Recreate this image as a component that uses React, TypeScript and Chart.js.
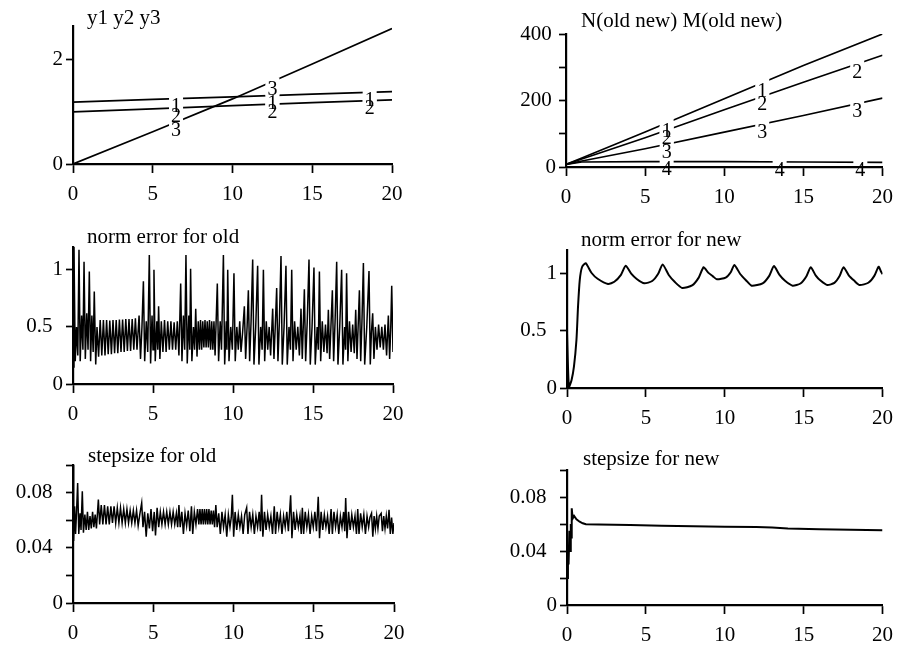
import { useEffect, useRef } from 'react';
import { Chart, registerables } from 'chart.js';

Chart.register(...registerables);

const FONT = '"Liberation Serif", "Times New Roman", serif';

// ---------- shared x axis ----------
const xTickVals = [0, 5, 10, 15, 20];
const xTickLabels = ['0', '5', '10', '15', '20'];

// ---------- panel 1: y1 y2 y3 ----------
const p1X = [0, 5, 10, 15, 20];
const p1Y1 = [1.19, 1.24, 1.29, 1.34, 1.39];
const p1Y2 = [1.0, 1.06, 1.12, 1.18, 1.23];
const p1Y3 = [0, 0.62, 1.25, 1.92, 2.6];
const p1YTickVals = [0, 2];
const p1YTickLabels = ['0', '2'];

// ---------- panel 2: N(old new) M(old new) ----------
const p2X = [0, 1, 5, 10, 15, 20];
const p2Line1 = [8, 27, 105, 205, 305, 400];
const p2Line2 = [8, 24, 88, 172, 255, 336];
const p2Line3 = [8, 18, 55, 105, 155, 207];
const p2Line4 = [8, 15, 16, 16, 15, 14];
const p2YTickVals = [0, 100, 200, 300, 400];
const p2YTickLabels = ['0', '', '200\u2009', '', '400\u2009'];

// ---------- panel 3: norm error for old ----------
const oldErr: [number, number][] = [
  [0, 0.15], [0.06, 1.2], [0.14, 0.2], [0.22, 0.5], [0.3, 0.25], [0.375, 1.175], [0.45, 0.2], [0.54, 0.6], [0.62, 0.3], [0.69, 1.07],
  [0.77, 0.22], [0.86, 0.62], [0.94, 0.3], [1.02, 0.985], [1.1, 0.2], [1.18, 0.6], [1.26, 0.28], [1.33, 0.81], [1.42, 0.17], [1.5, 0.5],
  [1.6, 0.24], [1.7, 0.56], [1.8, 0.25], [1.9, 0.56], [2.0, 0.25], [2.1, 0.56], [2.2, 0.26], [2.3, 0.555], [2.4, 0.26], [2.5, 0.56],
  [2.6, 0.27], [2.7, 0.56], [2.8, 0.27], [2.9, 0.565], [3.0, 0.28], [3.1, 0.565], [3.2, 0.28], [3.3, 0.57], [3.4, 0.29], [3.5, 0.57],
  [3.6, 0.29], [3.7, 0.57], [3.8, 0.3], [3.9, 0.575], [4.0, 0.3],
  [4.13, 0.6], [4.22, 0.22], [4.31, 0.5], [4.4, 0.9], [4.48, 0.2], [4.58, 0.55], [4.67, 0.28], [4.77, 1.13], [4.85, 0.18], [4.94, 0.6],
  [5.0, 0.3], [5.06, 1.0], [5.14, 0.2], [5.24, 0.55], [5.3, 0.3], [5.35, 0.68], [5.43, 0.22],
  [5.52, 0.55], [5.62, 0.28], [5.72, 0.56], [5.82, 0.28], [5.92, 0.55], [6.02, 0.3], [6.12, 0.55], [6.22, 0.3], [6.32, 0.54], [6.42, 0.3],
  [6.52, 0.55], [6.62, 0.25],
  [6.73, 0.88], [6.81, 0.2], [6.9, 0.6], [6.98, 0.3], [7.06, 1.13], [7.14, 0.18], [7.24, 0.6], [7.3, 0.3], [7.35, 1.01], [7.43, 0.2],
  [7.53, 0.5], [7.6, 0.3], [7.67, 0.66], [7.75, 0.24],
  [7.83, 0.55], [7.9, 0.3], [7.97, 0.56], [8.04, 0.3], [8.11, 0.55], [8.18, 0.32], [8.25, 0.56], [8.32, 0.32], [8.39, 0.55], [8.46, 0.32],
  [8.53, 0.56], [8.6, 0.3], [8.67, 0.55], [8.74, 0.3], [8.81, 0.55], [8.88, 0.25],
  [9.02, 0.88], [9.1, 0.2], [9.2, 0.55], [9.28, 0.3], [9.4, 1.13], [9.48, 0.17], [9.58, 0.55], [9.62, 0.3], [9.67, 1.0], [9.75, 0.2],
  [9.86, 0.5], [9.96, 0.3], [10.06, 0.97], [10.14, 0.2],
  [10.24, 0.5], [10.33, 0.3], [10.42, 0.55], [10.5, 0.28], [10.6, 0.45],
  [10.71, 0.68], [10.79, 0.22], [10.88, 0.5], [10.96, 0.82], [11.04, 0.2], [11.13, 0.55], [11.23, 1.09], [11.31, 0.17], [11.42, 0.5], [11.54, 1.035],
  [11.62, 0.17], [11.73, 0.5], [11.82, 0.3], [11.9, 1.0], [11.98, 0.2],
  [12.08, 0.55], [12.17, 0.3], [12.26, 0.5], [12.35, 0.25],
  [12.48, 0.66], [12.56, 0.22], [12.64, 0.5], [12.73, 0.84], [12.81, 0.2], [12.9, 0.55], [13.0, 1.12], [13.08, 0.17], [13.19, 0.5], [13.31, 1.035],
  [13.39, 0.17], [13.5, 0.5], [13.59, 0.3], [13.67, 1.0], [13.75, 0.2],
  [13.85, 0.55], [13.95, 0.3], [14.05, 0.5], [14.15, 0.25],
  [14.25, 0.66], [14.33, 0.22], [14.39, 0.5], [14.46, 0.83], [14.54, 0.2], [14.64, 0.55], [14.75, 1.09], [14.83, 0.17], [14.94, 0.5], [15.06, 1.02],
  [15.14, 0.17], [15.26, 0.5], [15.33, 0.3], [15.4, 0.985], [15.48, 0.2],
  [15.58, 0.55], [15.68, 0.28], [15.78, 0.52], [15.88, 0.27],
  [15.96, 0.65], [16.04, 0.22], [16.12, 0.5], [16.21, 0.82], [16.29, 0.2], [16.38, 0.55], [16.48, 1.07], [16.56, 0.17], [16.67, 0.5], [16.79, 1.0],
  [16.87, 0.17], [16.98, 0.5], [17.04, 0.3], [17.1, 0.97], [17.18, 0.2],
  [17.28, 0.55], [17.38, 0.28], [17.48, 0.52], [17.58, 0.27],
  [17.67, 0.65], [17.75, 0.22], [17.82, 0.5], [17.9, 0.82], [17.98, 0.2], [18.06, 0.55], [18.15, 1.06], [18.23, 0.17], [18.36, 0.5], [18.5, 0.99],
  [18.58, 0.17], [18.65, 0.45], [18.73, 0.62], [18.81, 0.22],
  [18.9, 0.5], [19.0, 0.3], [19.1, 0.52], [19.2, 0.32], [19.3, 0.5], [19.4, 0.3], [19.5, 0.52], [19.6, 0.25],
  [19.71, 0.6], [19.79, 0.22], [19.86, 0.5], [19.92, 0.86], [20.0, 0.28],
];
const errYTickVals = [0, 0.5, 1];
const errYTickLabels = ['0', '0.5\u2002', '1'];

// ---------- panel 4: norm error for new ----------
const newErr: [number, number][] = [
  [0, 0.48], [0.12, 0.01], [0.29, 0.07], [0.44, 0.185], [0.6, 0.42], [0.7, 0.71], [0.81, 0.94], [0.95, 1.05], [1.18, 1.085],
  [1.56, 1.0], [1.94, 0.95], [2.6, 0.905], [3.0, 0.924], [3.42, 0.984], [3.72, 1.063],
  [4.07, 0.994], [4.42, 0.948], [4.9, 0.91], [5.4, 0.93], [5.78, 0.993], [6.06, 1.075],
  [6.45, 0.983], [6.84, 0.921], [7.3, 0.87], [7.93, 0.892], [8.35, 0.96], [8.66, 1.05],
  [8.95, 1.003], [9.25, 0.971], [9.5, 0.945], [10.06, 0.96], [10.38, 1.007], [10.61, 1.07],
  [10.99, 0.989], [11.36, 0.935], [11.7, 0.89], [12.4, 0.91], [12.82, 0.975], [13.12, 1.06],
  [13.47, 0.983], [13.82, 0.932], [14.3, 0.89], [14.8, 0.909], [15.17, 0.97], [15.45, 1.05],
  [15.76, 0.98], [16.07, 0.934], [16.5, 0.895], [16.95, 0.914], [17.28, 0.973], [17.53, 1.05],
  [17.86, 0.98], [18.2, 0.934], [18.55, 0.895], [19.1, 0.915], [19.48, 0.975], [19.75, 1.055],
  [19.88, 1.02], [20, 0.99],
];

// ---------- panel 5: stepsize for old ----------
const oldStep: [number, number][] = [
  [0, 0.1], [0.04, 0.045], [0.1, 0.07], [0.16, 0.05], [0.22, 0.066], [0.29, 0.087], [0.36, 0.05], [0.44, 0.065], [0.5, 0.053], [0.58, 0.081],
  [0.65, 0.051], [0.74, 0.064], [0.82, 0.053], [0.9, 0.066], [0.98, 0.053], [1.06, 0.063], [1.14, 0.054], [1.22, 0.066], [1.3, 0.055], [1.38, 0.064],
  [1.46, 0.054],
  [1.58, 0.075], [1.66, 0.057], [1.76, 0.071], [1.86, 0.057], [1.96, 0.071], [2.06, 0.057], [2.16, 0.07], [2.26, 0.057], [2.36, 0.07], [2.46, 0.058],
  [2.56, 0.07], [2.66, 0.058], [2.76, 0.069], [2.86, 0.058], [2.96, 0.069], [3.06, 0.058], [3.16, 0.068], [3.26, 0.058], [3.36, 0.068], [3.46, 0.058],
  [3.56, 0.067], [3.66, 0.058], [3.76, 0.067], [3.86, 0.058], [3.96, 0.067], [4.06, 0.056],
  [4.16, 0.064], [4.28, 0.0725], [4.36, 0.055], [4.46, 0.066], [4.56, 0.048], [4.66, 0.065], [4.76, 0.054], [4.86, 0.068], [4.96, 0.052], [5.06, 0.066],
  [5.14, 0.049], [5.24, 0.069], [5.34, 0.055],
  [5.44, 0.066], [5.54, 0.057], [5.64, 0.066], [5.74, 0.057], [5.84, 0.066], [5.94, 0.057], [6.04, 0.066], [6.14, 0.057], [6.24, 0.066], [6.34, 0.057],
  [6.44, 0.065], [6.52, 0.055],
  [6.6, 0.071], [6.68, 0.055], [6.78, 0.066], [6.88, 0.05], [6.98, 0.065], [7.08, 0.056], [7.18, 0.067], [7.28, 0.052], [7.38, 0.07], [7.46, 0.05],
  [7.56, 0.066], [7.66, 0.057], [7.76, 0.068],
  [7.84, 0.057], [7.91, 0.068], [7.98, 0.057], [8.05, 0.068], [8.12, 0.057], [8.19, 0.068], [8.26, 0.057], [8.33, 0.068], [8.4, 0.057], [8.47, 0.068],
  [8.54, 0.057], [8.61, 0.067], [8.68, 0.057], [8.75, 0.067], [8.82, 0.055],
  [8.9, 0.071], [8.98, 0.055], [9.08, 0.065], [9.18, 0.05], [9.28, 0.066], [9.38, 0.055], [9.48, 0.064], [9.58, 0.048], [9.68, 0.064], [9.78, 0.055],
  [9.86, 0.062], [9.93, 0.0785], [10.01, 0.048], [10.1, 0.066], [10.2, 0.053],
  [10.3, 0.064], [10.4, 0.055], [10.5, 0.063], [10.6, 0.05], [10.7, 0.064], [10.82, 0.069], [10.9, 0.05], [11.0, 0.066], [11.1, 0.055], [11.2, 0.064],
  [11.3, 0.05], [11.4, 0.063], [11.5, 0.055], [11.6, 0.066], [11.68, 0.052], [11.75, 0.0785], [11.83, 0.048], [11.93, 0.066], [12.03, 0.053], [12.13, 0.064],
  [12.23, 0.055], [12.33, 0.063], [12.43, 0.05], [12.54, 0.07], [12.62, 0.05], [12.72, 0.066], [12.82, 0.055], [12.92, 0.064], [13.02, 0.05], [13.12, 0.063],
  [13.22, 0.055], [13.32, 0.066], [13.42, 0.052], [13.56, 0.078], [13.64, 0.047], [13.74, 0.066], [13.84, 0.053], [13.94, 0.064], [14.04, 0.055], [14.14, 0.063],
  [14.22, 0.05], [14.29, 0.069], [14.37, 0.05], [14.47, 0.066], [14.57, 0.055], [14.67, 0.064], [14.77, 0.05], [14.87, 0.063], [14.97, 0.055], [15.07, 0.066],
  [15.17, 0.052], [15.28, 0.077], [15.36, 0.047], [15.46, 0.066], [15.56, 0.053], [15.66, 0.064], [15.76, 0.055], [15.86, 0.063], [15.96, 0.05], [16.08, 0.068],
  [16.16, 0.05], [16.26, 0.066], [16.36, 0.055], [16.46, 0.064], [16.56, 0.05], [16.66, 0.063], [16.76, 0.055], [16.86, 0.066], [16.93, 0.052], [16.99, 0.076],
  [17.07, 0.047], [17.17, 0.066], [17.27, 0.053], [17.37, 0.064], [17.47, 0.055], [17.57, 0.063], [17.66, 0.05], [17.74, 0.068], [17.82, 0.05], [17.92, 0.065],
  [18.02, 0.055], [18.12, 0.064], [18.22, 0.05], [18.32, 0.063], [18.42, 0.055], [18.5, 0.062], [18.6, 0.065], [18.68, 0.048], [18.76, 0.063], [18.84, 0.054],
  [18.92, 0.063], [19.0, 0.054], [19.08, 0.063], [19.2, 0.065], [19.28, 0.052], [19.36, 0.063], [19.44, 0.054], [19.52, 0.063], [19.6, 0.054], [19.69, 0.0676],
  [19.77, 0.05], [19.85, 0.062], [19.93, 0.05], [20.0, 0.058],
];

// ---------- panel 6: stepsize for new ----------
const newStep: [number, number][] = [
  [0, 0.02], [0.06, 0.042], [0.1, 0.03], [0.15, 0.055], [0.2, 0.04], [0.24, 0.06], [0.27, 0.05], [0.3, 0.0716], [0.36, 0.064], [0.45, 0.066],
  [0.6, 0.0635], [0.8, 0.0617], [1.0, 0.0605], [1.2, 0.0598], [2, 0.0596], [4, 0.0592], [6, 0.0587], [8, 0.0583], [10, 0.058], [12, 0.0577],
  [13, 0.0574], [14, 0.0566], [16, 0.0562], [18, 0.0557], [20, 0.0553],
];
const stepYTickVals = [0, 0.02, 0.04, 0.06, 0.08, 0.1];
const stepYTickLabels = ['0', '', '0.04\u2002', '', '0.08\u2002', ''];

// ---------- helpers ----------
type Series = { x: number[]; y: number[] };
type CurveLabel = { s: number; x: number; t: string };
type Panel = {
  title: string;
  titleSize: number;
  titleDx: number;
  titleDy: number;
  pad: { left: number; right: number; top: number; bottom: number };
  yMax: number;
  yTicks: number[];
  yLabels: string[];
  series: Series[];
  lineWidth: number;
  tension: number;
  labels: CurveLabel[];
};

const fromPairs = (p: [number, number][]): Series => ({ x: p.map((d) => d[0]), y: p.map((d) => d[1]) });

function interp(s: Series, x: number): number {
  for (let i = 0; i < s.x.length - 1; i++) {
    if (x >= s.x[i] && x <= s.x[i + 1]) {
      const f = (x - s.x[i]) / (s.x[i + 1] - s.x[i]);
      return s.y[i] + f * (s.y[i + 1] - s.y[i]);
    }
  }
  return s.y[s.y.length - 1];
}

function labelFor(vals: number[], labels: string[]) {
  return (v: number | string) => {
    const n = Number(v);
    const i = vals.findIndex((t) => Math.abs(t - n) < 1e-9);
    return i >= 0 ? labels[i] : '';
  };
}

const PANELS: Panel[] = [
  {
    title: 'y1 y2 y3', titleSize: 21, titleDx: 14, titleDy: -2,
    pad: { left: 7, right: 510, top: 26, bottom: 445 },
    yMax: 2.65, yTicks: p1YTickVals, yLabels: p1YTickLabels,
    series: [{ x: p1X, y: p1Y1 }, { x: p1X, y: p1Y2 }, { x: p1X, y: p1Y3 }],
    lineWidth: 1.7, tension: 0,
    labels: [
      { s: 0, x: 6.46, t: '1' }, { s: 1, x: 6.46, t: '2' }, { s: 2, x: 6.46, t: '3' },
      { s: 0, x: 12.5, t: '1' }, { s: 1, x: 12.5, t: '2' }, { s: 2, x: 12.5, t: '3' },
      { s: 0, x: 18.6, t: '1' }, { s: 1, x: 18.6, t: '2' },
    ],
  },
  {
    title: 'N(old new) M(old new)', titleSize: 21, titleDx: 15, titleDy: -7,
    pad: { left: 500, right: 15, top: 34, bottom: 442 },
    yMax: 400, yTicks: p2YTickVals, yLabels: p2YTickLabels,
    series: [{ x: p2X, y: p2Line1 }, { x: p2X, y: p2Line2 }, { x: p2X, y: p2Line3 }, { x: p2X, y: p2Line4 }],
    lineWidth: 1.7, tension: 0,
    labels: [
      { s: 0, x: 6.36, t: '1' }, { s: 1, x: 6.36, t: '2' }, { s: 2, x: 6.36, t: '3' }, { s: 3, x: 6.36, t: '4' },
      { s: 0, x: 12.4, t: '1' }, { s: 1, x: 12.4, t: '2' }, { s: 2, x: 12.4, t: '3' }, { s: 3, x: 13.5, t: '4' },
      { s: 1, x: 18.4, t: '2' }, { s: 2, x: 18.4, t: '3' }, { s: 3, x: 18.6, t: '4' },
    ],
  },
  {
    title: 'norm error for old', titleSize: 21, titleDx: 14, titleDy: -4,
    pad: { left: 7, right: 509, top: 247, bottom: 225 },
    yMax: 1.2, yTicks: errYTickVals, yLabels: errYTickLabels,
    series: [fromPairs(oldErr)], lineWidth: 1.5, tension: 0, labels: [],
  },
  {
    title: 'norm error for new', titleSize: 21, titleDx: 14, titleDy: -4,
    pad: { left: 501, right: 14, top: 250, bottom: 221 },
    yMax: 1.2, yTicks: errYTickVals, yLabels: errYTickLabels,
    series: [fromPairs(newErr)], lineWidth: 2, tension: 0.2, labels: [],
  },
  {
    title: 'stepsize for old', titleSize: 21, titleDx: 15, titleDy: -3,
    pad: { left: 7, right: 508, top: 465, bottom: 6 },
    yMax: 0.1, yTicks: stepYTickVals, yLabels: stepYTickLabels,
    series: [fromPairs(oldStep)], lineWidth: 1.5, tension: 0, labels: [],
  },
  {
    title: 'stepsize for new', titleSize: 21, titleDx: 16, titleDy: -5,
    pad: { left: 501, right: 13, top: 470, bottom: 4 },
    yMax: 0.1, yTicks: stepYTickVals, yLabels: stepYTickLabels,
    series: [fromPairs(newStep)], lineWidth: 2, tension: 0, labels: [],
  },
];

function decoPlugin(p: Panel) {
  return {
    id: 'panelDeco',
    afterDatasetsDraw(chart: any) {
      if (!p.labels.length) return;
      const ctx = chart.ctx as CanvasRenderingContext2D;
      const xs = chart.scales.x;
      const ys = chart.scales.y;
      const size = 20;
      ctx.save();
      ctx.font = `${size}px ${FONT}`;
      ctx.textAlign = 'center';
      ctx.textBaseline = 'alphabetic';
      const pos = p.labels.map((l) => ({
        l,
        px: xs.getPixelForValue(l.x),
        py: ys.getPixelForValue(interp(p.series[l.s], l.x)),
        w: ctx.measureText(l.t).width,
      }));
      ctx.fillStyle = '#fff';
      pos.forEach((q) => ctx.fillRect(q.px - q.w / 2 - 2, q.py - 4, q.w + 4, size * 0.7 + 4));
      ctx.fillStyle = '#000';
      pos.forEach((q) => ctx.fillText(q.l.t, q.px, q.py + size * 0.66 + 0.5));
      ctx.restore();
    },
    afterDraw(chart: any) {
      const ctx = chart.ctx as CanvasRenderingContext2D;
      const a = chart.chartArea;
      ctx.save();
      ctx.font = `${p.titleSize}px ${FONT}`;
      ctx.fillStyle = '#000';
      ctx.textAlign = 'left';
      ctx.textBaseline = 'alphabetic';
      ctx.fillText(p.title, a.left + p.titleDx, a.top + p.titleDy);
      ctx.restore();
    },
  };
}

function makeConfig(p: Panel): any {
  const tickFont = { family: FONT, size: 21 };
  return {
    type: 'line',
    data: {
      datasets: p.series.map((s) => ({
        data: s.x.map((x, i) => ({ x, y: s.y[i] })),
        borderColor: '#000',
        backgroundColor: '#000',
        borderWidth: p.lineWidth,
        pointRadius: 0,
        tension: p.tension,
        fill: false,
      })),
    },
    options: {
      responsive: false,
      animation: false,
      events: [],
      layout: { padding: p.pad },
      plugins: { legend: { display: false }, tooltip: { enabled: false }, title: { display: false } },
      scales: {
        x: {
          type: 'linear',
          min: 0,
          max: 20,
          afterBuildTicks: (ax: any) => { ax.ticks = xTickVals.map((v) => ({ value: v })); },
          afterFit: (s: any) => { s.height = 40; },
          ticks: { color: '#000', font: tickFont, padding: 9, autoSkip: false, maxRotation: 0, z: 1, callback: labelFor(xTickVals, xTickLabels) },
          grid: { drawOnChartArea: false, drawTicks: true, tickLength: 9, tickColor: '#000', tickWidth: 1.7, z: 1 },
          border: { display: true, color: '#000', width: 2.2, z: 1 },
        },
        y: {
          type: 'linear',
          min: 0,
          max: p.yMax,
          afterBuildTicks: (ax: any) => { ax.ticks = p.yTicks.map((v) => ({ value: v })); },
          afterFit: (s: any) => { s.width = 66; },
          ticks: { color: '#000', font: tickFont, padding: 3, autoSkip: false, z: 1, callback: labelFor(p.yTicks, p.yLabels) },
          grid: { drawOnChartArea: false, drawTicks: true, tickLength: 7, tickColor: '#000', tickWidth: 1.7, z: 1 },
          border: { display: true, color: '#000', width: 2.2, z: 1 },
        },
      },
    },
    plugins: [decoPlugin(p)],
  };
}

export default function App() {
  const refs = useRef<(HTMLCanvasElement | null)[]>([]);
  useEffect(() => {
    const charts = PANELS.map((p, i) => new Chart(refs.current[i] as HTMLCanvasElement, makeConfig(p)));
    return () => charts.forEach((c) => c.destroy());
  }, []);
  return (
    <div style={{ position: 'fixed', left: 0, top: 0, width: 902, height: 649, background: '#fff' }}>
      {PANELS.map((_, i) => (
        <canvas
          key={i}
          ref={(el) => { refs.current[i] = el; }}
          width={902}
          height={649}
          style={{ position: 'absolute', left: 0, top: 0, width: 902, height: 649 }}
        />
      ))}
    </div>
  );
}
